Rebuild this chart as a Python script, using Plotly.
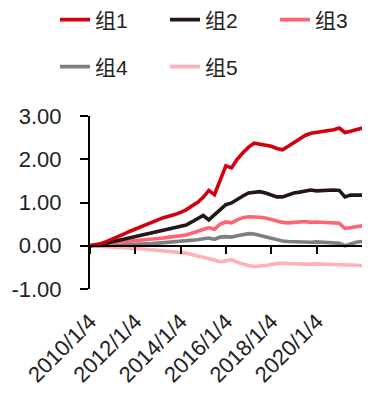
import plotly.graph_objects as go
import pandas as pd

dates = [d.strftime("%Y-%m-%d") for d in pd.date_range("2010-01-04", periods=49, freq="QS")]
dates[0] = "2010-01-04"

g1 = [0.00, 0.05, 0.10, 0.15, 0.22, 0.27, 0.33, 0.38, 0.45, 0.50, 0.55, 0.60, 0.65, 0.68, 0.72, 0.77,
      0.83, 0.92, 1.00, 1.12, 1.28, 1.18, 1.50, 1.85, 1.80, 2.00, 2.15, 2.28, 2.37, 2.35, 2.33, 2.30,
      2.25, 2.22, 2.30, 2.38, 2.48, 2.55, 2.60, 2.62, 2.63, 2.65, 2.68, 2.72, 2.62, 2.65, 2.68, 2.70, 2.75]
g2 = [0.00, 0.03, 0.06, 0.09, 0.12, 0.15, 0.18, 0.22, 0.25, 0.28, 0.31, 0.34, 0.37, 0.40, 0.42, 0.45,
      0.48, 0.55, 0.62, 0.70, 0.60, 0.72, 0.83, 0.95, 0.99, 1.08, 1.15, 1.22, 1.24, 1.25, 1.22, 1.18,
      1.13, 1.13, 1.18, 1.22, 1.24, 1.27, 1.29, 1.27, 1.28, 1.27, 1.29, 1.28, 1.13, 1.17, 1.18, 1.17, 1.22]
g3 = [0.00, 0.02, 0.04, 0.06, 0.08, 0.09, 0.11, 0.12, 0.14, 0.15, 0.16, 0.17, 0.18, 0.20, 0.21, 0.23,
      0.25, 0.29, 0.33, 0.38, 0.42, 0.38, 0.50, 0.55, 0.53, 0.60, 0.65, 0.67, 0.67, 0.66, 0.64, 0.60,
      0.56, 0.54, 0.53, 0.55, 0.55, 0.56, 0.54, 0.55, 0.54, 0.55, 0.53, 0.52, 0.40, 0.42, 0.43, 0.44, 0.48]
g4 = [0.00, 0.00, 0.01, 0.01, 0.02, 0.02, 0.03, 0.03, 0.03, 0.04, 0.05, 0.06, 0.07, 0.07, 0.08, 0.09,
      0.10, 0.12, 0.14, 0.16, 0.18, 0.15, 0.20, 0.21, 0.20, 0.23, 0.26, 0.28, 0.27, 0.24, 0.20, 0.17,
      0.13, 0.11, 0.10, 0.09, 0.09, 0.08, 0.08, 0.09, 0.08, 0.09, 0.08, 0.06, 0.00, 0.05, 0.08, 0.10, 0.14]
g5 = [0.00, -0.01, -0.02, -0.03, -0.04, -0.05, -0.05, -0.06, -0.07, -0.08, -0.09, -0.10, -0.11, -0.12, -0.13, -0.15,
      -0.17, -0.20, -0.24, -0.28, -0.30, -0.33, -0.37, -0.35, -0.32, -0.38, -0.43, -0.46, -0.48, -0.48, -0.46, -0.43,
      -0.41, -0.40, -0.41, -0.42, -0.42, -0.42, -0.43, -0.42, -0.43, -0.43, -0.44, -0.44, -0.44, -0.45, -0.45, -0.46, -0.46]

names = ["组1", "组2", "组3", "组4", "组5"]
colors = ["#D2000F", "#231815", "#FF6474", "#7F7F7F", "#FFB1B6"]
series = [g1, g2, g3, g4, g5]

tick_vals = ["2010-01-04", "2012-01-04", "2014-01-04", "2016-01-04", "2018-01-04", "2020-01-04"]
tick_text = ["2010/1/4", "2012/1/4", "2014/1/4", "2016/1/4", "2018/1/4", "2020/1/4"]
y_ticks = [-1, 0, 1, 2, 3]
y_tick_text = ["-1.00", "0.00", "1.00", "2.00", "3.00"]

FONT = "Liberation Sans, Arial, Noto Sans CJK SC"
# the page body keeps its default 8px margin, so the figure fills the rest of the window
W, H = 367, 385

# legend slots (figure pixel positions): two rows of entries
leg_ids = ["legend", "legend2", "legend3", "legend4", "legend5"]
leg_px = [(47, 12), (157, 12), (267, 12), (47, 59), (157, 59)]

fig = go.Figure()
for i in [4, 3, 2, 1, 0]:
    fig.add_trace(go.Scatter(x=dates, y=series[i], name=names[i], mode="lines",
                             line=dict(color=colors[i], width=3.6),
                             legend=leg_ids[i]))
fig.add_trace(go.Scatter(x=dates, y=[None] * len(dates), xaxis="x2", showlegend=False,
                         hoverinfo="skip"))

legends = {}
for lid, (px, py) in zip(leg_ids, leg_px):
    legends[lid] = dict(xref="container", yref="container",
                        x=px / W, y=1 - py / H, xanchor="left", yanchor="middle",
                        orientation="h", itemwidth=30, bgcolor="rgba(0,0,0,0)",
                        font=dict(size=21, family=FONT, color="#222"))

fig.update_layout(
    width=W, height=H,
    margin=dict(l=82, r=13, t=108, b=104, autoexpand=False),
    paper_bgcolor="white", plot_bgcolor="white",
    font=dict(family=FONT, color="#222", size=22),
    showlegend=True,
    **legends,
    xaxis=dict(type="date", range=["2010-01-04", "2022-01-01"],
               tickvals=tick_vals, ticktext=tick_text, tickangle=-45,
               showline=False, showgrid=False, zeroline=False, automargin=False,
               ticks="outside", ticklen=10, tickcolor="rgba(0,0,0,0)",
               tickfont=dict(size=22, family=FONT, color="#222")),
    xaxis2=dict(type="date", overlaying="x", matches="x", anchor="free", position=0.25,
                side="bottom", automargin=False,
                tickvals=tick_vals, showticklabels=False,
                showline=True, linecolor="black", linewidth=2,
                ticks="outside", ticklen=7, tickwidth=2, tickcolor="black",
                showgrid=False, zeroline=False),
    yaxis=dict(range=[-1, 3], tickvals=y_ticks, ticktext=y_tick_text, automargin=False,
               showline=True, linecolor="black", linewidth=2,
               ticks="outside", ticklen=8, tickwidth=2, tickcolor="black",
               ticklabelstandoff=14,
               showgrid=False, zeroline=False,
               tickfont=dict(size=22, family=FONT, color="#222")),
)

fig.write_html("out.html")
